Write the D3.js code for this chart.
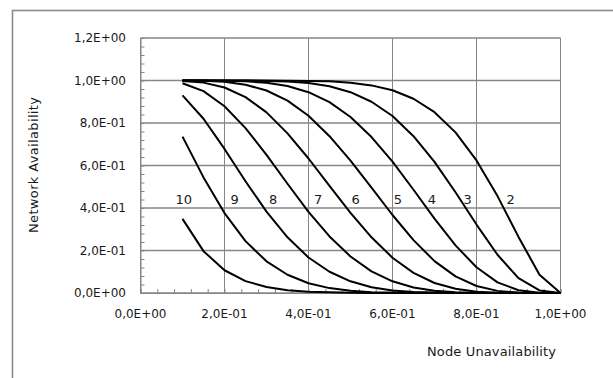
<!DOCTYPE html>
<html>
<head>
<meta charset="utf-8">
<script src="https://d3js.org/d3.v7.min.js"></script>
<style>
  body { margin: 0; background: #fff; }
  text { font-family: "DejaVu Sans", sans-serif; fill: #1a1a1a; }
</style>
</head>
<body>
<svg id="chart" width="613" height="378"></svg>
<script>
// node unavailability (x) for every curve
var nodeUnavailability = [0.10, 0.15, 0.20, 0.25, 0.30, 0.35, 0.40, 0.45, 0.50, 0.55,
                          0.60, 0.65, 0.70, 0.75, 0.80, 0.85, 0.90, 0.95, 1.00];

// network availability, one array per curve
var avail2  = [1.000, 1.000, 1.000, 1.000, 1.000, 0.999, 0.998, 0.996, 0.989, 0.977, 0.954, 0.914, 0.851, 0.756, 0.624, 0.456, 0.264, 0.086, 0];
var avail3  = [1.000, 1.000, 1.000, 1.000, 0.998, 0.995, 0.988, 0.973, 0.945, 0.900, 0.833, 0.738, 0.617, 0.474, 0.322, 0.180, 0.070, 0.012, 0];
var avail4  = [1.000, 1.000, 0.999, 0.996, 0.989, 0.974, 0.945, 0.898, 0.828, 0.734, 0.618, 0.486, 0.350, 0.224, 0.121, 0.050, 0.013, 0.001, 0];
var avail5  = [1.000, 0.999, 0.994, 0.980, 0.953, 0.905, 0.834, 0.738, 0.623, 0.496, 0.367, 0.249, 0.150, 0.078, 0.033, 0.010, 0.002, 0.000, 0];
var avail6  = [0.998, 0.990, 0.967, 0.922, 0.850, 0.751, 0.633, 0.504, 0.377, 0.262, 0.166, 0.095, 0.047, 0.020, 0.006, 0.001, 0.000, 0.000, 0];
var avail7  = [0.987, 0.950, 0.879, 0.776, 0.650, 0.514, 0.382, 0.266, 0.172, 0.102, 0.055, 0.026, 0.011, 0.004, 0.001, 0.000, 0, 0, 0];
var avail8  = [0.930, 0.820, 0.678, 0.526, 0.383, 0.262, 0.167, 0.100, 0.055, 0.027, 0.012, 0.005, 0.002, 0.000, 0, 0, 0, 0, 0];
var avail9  = [0.736, 0.544, 0.376, 0.244, 0.149, 0.086, 0.046, 0.023, 0.011, 0.004, 0.002, 0.001, 0, 0, 0, 0, 0, 0, 0];
var avail10 = [0.349, 0.197, 0.107, 0.056, 0.028, 0.013, 0.006, 0.003, 0.001, 0, 0, 0, 0, 0, 0, 0, 0, 0, 0];

var curveNames = ['2', '3', '4', '5', '6', '7', '8', '9', '10'];
var curveValues = [avail2, avail3, avail4, avail5, avail6, avail7, avail8, avail9, avail10];
// where each curve's number sits (x in node unavailability, y in availability)
var labelX = [0.881, 0.779, 0.694, 0.613, 0.512, 0.423, 0.316, 0.224, 0.103];
var labelY = 0.44;

var xTicks = [0, 0.2, 0.4, 0.6, 0.8, 1.0];
var yTicks = [0, 0.2, 0.4, 0.6, 0.8, 1.0, 1.2];

var series = curveNames.map(function(name, i) {
  return {
    name: name,
    points: curveValues[i].map(function(v, j) { return {x: nodeUnavailability[j], y: v}; }),
    labelX: labelX[i]
  };
});

var plot = {left: 140.5, right: 560.5, top: 38, bottom: 293};

var x = d3.scaleLinear().domain([0, 1]).range([plot.left, plot.right]);
var y = d3.scaleLinear().domain([0, 1.2]).range([plot.bottom, plot.top]);

// 1,2E+00 style labels
function sci(v) {
  var parts = v.toExponential(1).split('e');
  var e = +parts[1];
  return parts[0].replace('.', ',') + 'E' + (e < 0 ? '-' : '+') + String(Math.abs(e)).padStart(2, '0');
}

var svg = d3.select('#chart');

// outer chart frame (only left and top edges fall inside the picture)
svg.append('rect')
  .attr('x', 12.5).attr('y', 10.5)
  .attr('width', 700).attr('height', 450)
  .attr('fill', 'none')
  .attr('stroke', '#8a8a8a')
  .attr('stroke-width', 1.6);

// gridlines
svg.append('g').attr('class', 'grid')
  .selectAll('line.h')
  .data(yTicks)
  .enter()
    .append('line')
    .attr('x1', plot.left).attr('x2', plot.right)
    .attr('y1', function(d) { return y(d); })
    .attr('y2', function(d) { return y(d); })
    .attr('stroke', '#868686')
    .attr('stroke-width', 1.3);

svg.select('g.grid')
  .selectAll('line.v')
  .data(xTicks)
  .enter()
    .append('line')
    .attr('x1', function(d) { return x(d); })
    .attr('x2', function(d) { return x(d); })
    .attr('y1', plot.top).attr('y2', plot.bottom)
    .attr('stroke', '#868686')
    .attr('stroke-width', 1);

// minor ticks, pointing into the plot
var minorX = d3.range(0, 1.0001, 0.04);
var minorY = d3.range(0, 1.2001, 0.04);

svg.append('g')
  .attr('transform', 'translate(0,' + plot.bottom + ')')
  .call(d3.axisBottom(x).tickValues(minorX).tickSize(-4).tickFormat(''))
  .call(function(g) {
    g.select('.domain').attr('stroke', '#868686');
    g.selectAll('.tick line').attr('stroke', '#868686');
  });

svg.append('g')
  .attr('transform', 'translate(' + plot.left + ',0)')
  .call(d3.axisLeft(y).tickValues(minorY).tickSize(-4).tickFormat(''))
  .call(function(g) {
    g.select('.domain').attr('stroke', '#868686');
    g.selectAll('.tick line').attr('stroke', '#868686');
  });

// tick labels
svg.append('g')
  .selectAll('text')
  .data(yTicks)
  .enter()
    .append('text')
    .attr('x', 126)
    .attr('y', function(d) { return y(d); })
    .attr('dy', '0.36em')
    .attr('text-anchor', 'end')
    .style('font-size', '12px')
    .text(sci);

svg.append('g')
  .selectAll('text')
  .data(xTicks)
  .enter()
    .append('text')
    .attr('x', function(d) { return x(d); })
    .attr('y', 313.5)
    .attr('dy', '0.36em')
    .attr('text-anchor', 'middle')
    .style('font-size', '12px')
    .text(sci);

// curves
var line = d3.line()
  .x(function(d) { return x(d.x); })
  .y(function(d) { return y(d.y); });

svg.append('g')
  .selectAll('path')
  .data(series)
  .enter()
    .append('path')
    .attr('d', function(d) { return line(d.points); })
    .attr('fill', 'none')
    .attr('stroke', '#000')
    .attr('stroke-width', 2)
    .attr('stroke-linejoin', 'round');

// curve numbers
svg.append('g')
  .selectAll('text')
  .data(series)
  .enter()
    .append('text')
    .attr('x', function(d) { return x(d.labelX); })
    .attr('y', y(labelY))
    .attr('dy', '0.36em')
    .attr('text-anchor', 'middle')
    .style('font-size', '13px')
    .text(function(d) { return d.name; });

// axis titles
svg.append('text')
  .attr('x', 427).attr('y', 351)
  .attr('dy', '0.36em')
  .attr('textLength', 129)
  .attr('lengthAdjust', 'spacing')
  .style('font-size', '13px')
  .text('Node Unavailability');

svg.append('text')
  .attr('transform', 'translate(33,165) rotate(-90)')
  .attr('dy', '0.36em')
  .attr('text-anchor', 'middle')
  .attr('textLength', 136)
  .attr('lengthAdjust', 'spacing')
  .style('font-size', '13px')
  .text('Network Availability');
</script>
</body>
</html>
